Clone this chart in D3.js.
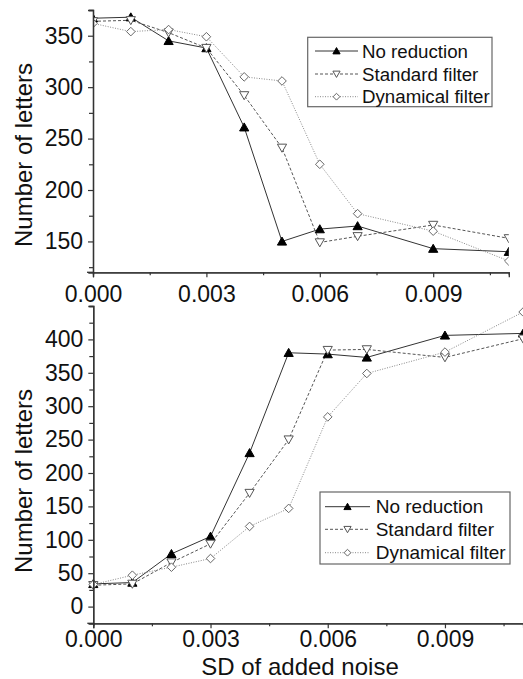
<!DOCTYPE html>
<html><head><meta charset="utf-8">
<script src="https://cdn.jsdelivr.net/npm/d3@7"></script>
<style>
html,body{margin:0;padding:0;background:#fff;}
svg{display:block;font-family:"Liberation Sans",Arial,sans-serif;}
</style></head>
<body><svg id="c" width="523" height="679"></svg>
<script>
const sdValues = [0, 0.001, 0.002, 0.003, 0.004, 0.005, 0.006, 0.007, 0.009, 0.011];
const seriesNames = ["No reduction", "Standard filter", "Dynamical filter"];
const topNoReduction = [367, 368, 345, 338, 261, 150, 162, 165, 143, 140];
const topStandard    = [364, 365, 353, 338, 292, 241, 149, 155, 166, 153];
const topDynamical   = [362, 354, 356, 349, 310, 306, 225, 177, 160, 131];
const botNoReduction = [34, 36, 79, 105, 230, 380, 378, 373, 406, 409];
const botStandard    = [32, 34, 66, 94, 170, 250, 384, 385, 373, 401];
const botDynamical   = [33, 47, 59, 72, 120, 147, 284, 349, 381, 441];
const xTickValues = [0, 0.003, 0.006, 0.009];
const xMinorValues = [0.0015, 0.0045, 0.0075, 0.0105];
const topYTicks = [150, 200, 250, 300, 350];
const topYMinor = [125, 175, 225, 275, 325, 375];
const botYTicks = [0, 50, 100, 150, 200, 250, 300, 350, 400];
const botYMinor = [-25, 25, 75, 125, 175, 225, 275, 325, 375, 425, 450];
const yTitle = "Number of letters";
const xTitle = "SD of added noise";

const svg = d3.select("#c");

const triUp = {draw(ctx, s){ const r = s; ctx.moveTo(0, -r*0.95); ctx.lineTo(r, r*0.8); ctx.lineTo(-r, r*0.8); ctx.closePath(); }};
const triDown = {draw(ctx, s){ const r = s; ctx.moveTo(0, r*0.95); ctx.lineTo(r, -r*0.8); ctx.lineTo(-r, -r*0.8); ctx.closePath(); }};
const diamond = {draw(ctx, s){ const r = s; ctx.moveTo(0, -r); ctx.lineTo(r, 0); ctx.lineTo(0, r); ctx.lineTo(-r, 0); ctx.closePath(); }};

const styles = [
  {stroke: "#333", dash: null, sym: triUp, fill: "#000", mstroke: "#000", size: 4.6, lsize: 3.6, width: 1},
  {stroke: "#555", dash: "3,2", sym: triDown, fill: "#fff", mstroke: "#555", size: 4.6, lsize: 3.6, width: 1},
  {stroke: "#888", dash: "1,1.5", sym: diamond, fill: "#fff", mstroke: "#666", size: 4.3, lsize: 3.4, width: 1}
];

function panel(cfg){
  const x = d3.scaleLinear().domain([0, 0.011]).range([cfg.x0, cfg.x1]);
  const y = d3.scaleLinear().domain(cfg.yDomain).range([cfg.y1, cfg.y0]);
  const g = svg.append("g");
  const clipId = "clip" + cfg.id;
  if (cfg.clip) {
    svg.append("clipPath").attr("id", clipId).append("rect")
      .attr("x", cfg.x0).attr("y", cfg.y0).attr("width", cfg.x1 - cfg.x0).attr("height", cfg.y1 - cfg.y0);
  }
  const data = g.append("g");
  if (cfg.clip) data.attr("clip-path", `url(#${clipId})`);
  const line = d3.line().x((d, i) => x(sdValues[i])).y(d => y(d));
  cfg.series.forEach((vals, k) => {
    const st = styles[k];
    data.append("path").attr("d", line(vals)).attr("fill", "none")
      .attr("stroke", st.stroke).attr("stroke-width", st.width)
      .attr("stroke-dasharray", st.dash);
  });
  cfg.series.forEach((vals, k) => {
    const st = styles[k];
    const sym = d3.symbol().type(st.sym).size(st.size);
    data.selectAll(null).data(vals).enter().append("path")
      .attr("transform", (d, i) => `translate(${x(sdValues[i])},${y(d)})`)
      .attr("d", sym).attr("fill", st.fill).attr("stroke", st.mstroke).attr("stroke-width", 1);
  });
  // axes
  g.append("g").attr("transform", `translate(0,${cfg.y1})`)
    .call(d3.axisBottom(x).tickValues(xTickValues).tickSize(5).tickFormat(d3.format(".3f")).tickPadding(cfg.xPad));
  g.append("g").attr("transform", `translate(0,${cfg.y1})`)
    .call(d3.axisBottom(x).tickValues(xMinorValues).tickSize(3).tickFormat(""));
  g.append("g").attr("transform", `translate(${cfg.x0},0)`)
    .call(d3.axisLeft(y).tickValues(cfg.yTicks).tickSize(5).tickPadding(5).tickFormat(d3.format("d")));
  g.append("g").attr("transform", `translate(${cfg.x0},0)`)
    .call(d3.axisLeft(y).tickValues(cfg.yMinor).tickSize(4).tickFormat(""));
  g.selectAll(".domain").attr("stroke", "#333").attr("stroke-width", 1.3);
  g.selectAll(".tick line").attr("stroke", "#333").attr("stroke-width", 1.2);
  g.selectAll(".tick text").attr("font-size", 23).attr("fill", "#111")
    .attr("font-family", '"Liberation Sans",Arial,sans-serif');
  g.append("line").attr("x1", cfg.x0 - 6).attr("x2", cfg.x0).attr("y1", cfg.y1).attr("y2", cfg.y1)
    .attr("stroke", "#333").attr("stroke-width", 1.3);
  g.append("text").attr("transform", `translate(${cfg.titleX},${cfg.titleY}) rotate(-90)`)
    .attr("text-anchor", "middle").attr("dominant-baseline", "central")
    .attr("font-size", 24).attr("fill", "#111").text(yTitle);
  // legend
  const L = cfg.legend;
  g.append("rect").attr("x", L.x).attr("y", L.y).attr("width", L.w).attr("height", L.h)
    .attr("fill", "#fff").attr("stroke", "#666").attr("stroke-width", 1.2);
  seriesNames.forEach((name, k) => {
    const st = styles[k];
    const ry = L.rows[k];
    g.append("line").attr("x1", L.lx0).attr("x2", L.lx1).attr("y1", ry).attr("y2", ry)
      .attr("stroke", st.stroke).attr("stroke-width", 1).attr("stroke-dasharray", st.dash);
    g.append("path").attr("transform", `translate(${(L.lx0 + L.lx1) / 2},${ry})`)
      .attr("d", d3.symbol().type(st.sym).size(st.lsize)).attr("fill", st.fill)
      .attr("stroke", st.mstroke).attr("stroke-width", 1);
    g.append("text").attr("x", L.tx).attr("y", ry).attr("dominant-baseline", "central")
      .attr("font-size", L.fs).attr("fill", "#111").text(name);
  });
}

panel({
  id: "top", clip: true, x0: 93, x1: 508.8, y0: 10, y1: 272.3, yDomain: [120, 375],
  series: [topNoReduction, topStandard, topDynamical],
  yTicks: topYTicks, yMinor: topYMinor, xPad: 8,
  titleX: 23, titleY: 155,
  legend: {x: 307.7, y: 37.3, w: 184.3, h: 69.4, rows: [51, 74, 96.7], lx0: 315, lx1: 358, tx: 362, fs: 18.7}
});
panel({
  id: "bot", clip: false, x0: 93.3, x1: 523.1, y0: 306, y1: 623.3, yDomain: [-25, 450],
  series: [botNoReduction, botStandard, botDynamical],
  yTicks: botYTicks, yMinor: botYMinor, xPad: 2,
  titleX: 23, titleY: 481,
  legend: {x: 320, y: 492, w: 190, h: 72, rows: [506.7, 529.3, 552.7], lx0: 325, lx1: 370, tx: 375.7, fs: 19}
});
svg.append("text").attr("x", 300).attr("y", 675).attr("text-anchor", "middle")
  .attr("font-size", 24).attr("fill", "#111").text(xTitle);
</script></body></html>
